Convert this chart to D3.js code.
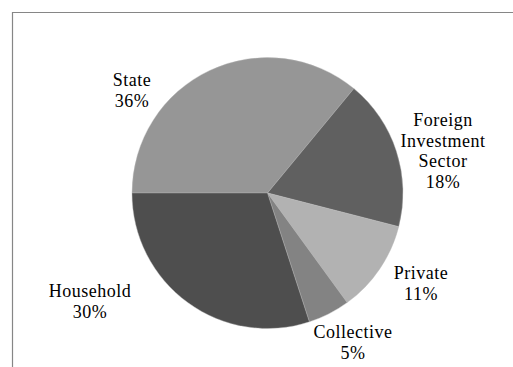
<!DOCTYPE html>
<html>
<head>
<meta charset="utf-8">
<script src="https://cdn.jsdelivr.net/npm/d3@7"></script>
<style>
  html, body { margin: 0; padding: 0; background: #fff; }
  svg { display: block; }
</style>
</head>
<body>
<svg id="chart" width="513" height="367"></svg>
<script>
// Ownership shares of investment (%)
const sectors = ["State", "Foreign Investment Sector", "Private", "Collective", "Household"];
const shares = [36, 18, 11, 5, 30];
const fills = ["#969696", "#606060", "#b2b2b2", "#838383", "#4e4e4e"];
// Label lines per sector and the label anchor (centre x, first baseline)
const labelLines = [["State", "36%"], ["Foreign", "Investment", "Sector", "18%"], ["Private", "11%"], ["Collective", "5%"], ["Household", "30%"]];
const labelAnchors = [[132, 86], [443, 126], [421, 279], [353, 338], [90, 297]];

const W = 513, H = 367;
const cx = 267.5, cy = 193, R = 135.5;
const svg = d3.select("#chart");

// frame: top and left edges of the plot box
svg.append("path")
  .attr("d", `M12.5,${H} V12.5 H${W}`)
  .attr("fill", "none")
  .attr("stroke", "#868686")
  .attr("stroke-width", 1.2);

const data = sectors.map((s, i) => ({ name: s, value: shares[i], fill: fills[i], lines: labelLines[i], at: labelAnchors[i] }));

const pie = d3.pie()
  .sort(null)
  .value(d => d.value)
  .startAngle(-Math.PI / 2)
  .endAngle(3 * Math.PI / 2);

const arc = d3.arc().innerRadius(0).outerRadius(R);

const g = svg.append("g").attr("transform", `translate(${cx},${cy})`);
g.selectAll("path.slice")
  .data(pie(data))
  .join("path")
  .attr("class", "slice")
  .attr("d", arc)
  .attr("fill", d => d.data.fill)
  .attr("stroke", "#b8b8b8")
  .attr("stroke-width", 0.4);

// labels
const lh = 20.5;
const labels = svg.selectAll("text.lbl")
  .data(data)
  .join("text")
  .attr("class", "lbl")
  .attr("font-family", '"Liberation Serif"')
  .attr("font-size", 18)
  .attr("letter-spacing", 0.5)
  .attr("fill", "#000")
  .attr("text-anchor", "middle");
labels.selectAll("tspan")
  .data(d => d.lines.map((t, k) => ({ t, x: d.at[0], y: d.at[1] + k * lh })))
  .join("tspan")
  .attr("x", d => d.x)
  .attr("y", d => d.y)
  .text(d => d.t);
</script>
</body>
</html>
